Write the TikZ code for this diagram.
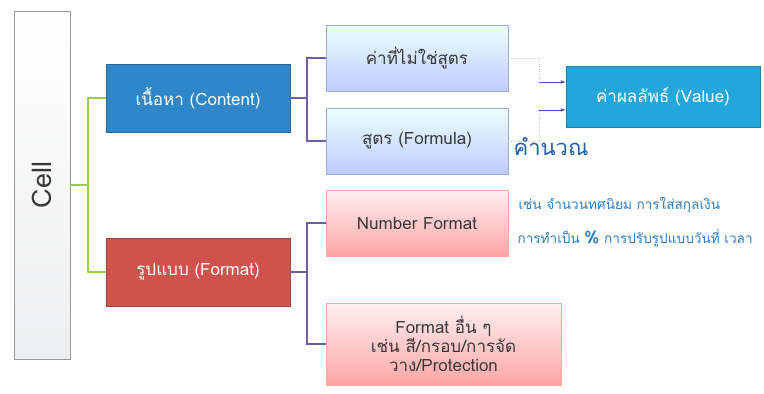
\documentclass[tikz,border=0pt]{standalone}
\usepackage{fontspec}
\setmainfont[Script=Thai]{Loma}
\usetikzlibrary{arrows.meta}
\definecolor{cellgray}{HTML}{EDEEEF}
\definecolor{contentblue}{HTML}{2F86C8}
\definecolor{formatred}{HTML}{D0524D}
\definecolor{valueblue}{HTML}{22A6DC}
\definecolor{linkgreen}{HTML}{9ACD45}
\definecolor{linkpurple}{HTML}{6E5CA6}
\definecolor{notesblue}{HTML}{2C7DC6}
\definecolor{calcblue}{HTML}{2160AA}
\definecolor{textgray}{HTML}{383838}
\tikzset{
  mainbox/.style={minimum width=184pt, minimum height=68pt, text=white,
    font=\fontsize{17}{19}\selectfont, draw=#1!80!black, fill=#1, inner sep=0pt},
  skybox/.style={minimum width=182pt, minimum height=66pt, text=textgray,
    font=\fontsize{17}{19}\selectfont, draw=cyan!35!blue!40, top color=blue!3!cyan!8,
    bottom color=cyan!20!blue!25!white, inner sep=0pt},
  pinkbox/.style={minimum width=182pt, minimum height=66pt, text=textgray,
    font=\fontsize{17}{19}\selectfont, draw=red!35, top color=red!6,
    bottom color=red!35!white, inner sep=0pt, align=center},
  greenlink/.style={draw=linkgreen, line width=1.2pt},
  purplelink/.style={draw=linkpurple, line width=1.2pt},
  valuelink/.style={draw=gray!60!blue, line width=0.8pt, -{Latex[length=5pt]}},
  faintlink/.style={draw=gray!50, line width=0.6pt, dotted}
}
\begin{document}
\begin{tikzpicture}[x=1pt,y=-1pt]
  \useasboundingbox (0,0) rectangle (764,394);
  % left column
  \node[draw=gray!80, top color=white, bottom color=cellgray, minimum width=56pt,
    minimum height=348pt, inner sep=0pt] (cell) at (42,185) {};
  \node[rotate=90, text=textgray, font=\fontsize{27}{29}\selectfont] (celltext) at (cell.center) {Cell};
  \node[mainbox=contentblue] (content) at (198,98) {เนื้อหา (Content)};
  \node[mainbox=formatred] (format) at (198,272) {รูปแบบ (Format)};
  % second column
  \node[skybox] (nonformula) at (417,58) {ค่าที่ไม่ใช่สูตร};
  \node[skybox] (formula) at (417,141) {สูตร (Formula)};
  \node[pinkbox] (numformat) at (417,223) {Number Format};
  \node[pinkbox, minimum width=235pt, minimum height=82pt] (otherformat) at (443.5,344)
    {Format อื่น ๆ\\เช่น สี/กรอบ/การจัด\\วาง/Protection};
  \node[draw=valueblue!80!black, fill=valueblue, text=white, minimum width=194pt,
    minimum height=61pt, font=\fontsize{17}{19}\selectfont, inner sep=0pt] (value) at (663,96.5)
    {ค่าผลลัพธ์ (Value)};
  \node[text=calcblue, font=\fontsize{22}{24}\selectfont] (calc) at (551,147) {คำนวณ};
  \node[anchor=west, text=notesblue, font=\fontsize{13.6}{15}\selectfont] (note1) at (515,205)
    {เช่น จำนวนทศนิยม การใส่สกุลเงิน};
  \node[anchor=west, text=notesblue, font=\fontsize{13.6}{15}\selectfont] (note2) at (514,238)
    {การทำเป็น {\fontsize{17}{19}\selectfont\bfseries\%} การปรับรูปแบบวันที่ เวลา};
  % connectors
  \coordinate (gjoin) at (88,185);
  \draw[greenlink] (cell.east) -- (gjoin) |- (content.west);
  \draw[greenlink] (gjoin) |- (format.west);
  \coordinate (pjoin1) at (307,98);
  \draw[purplelink] (content.east) -- (pjoin1) |- (nonformula.west);
  \draw[purplelink] (pjoin1) |- (formula.west);
  \coordinate (pjoin2) at (307,272);
  \draw[purplelink] (format.east) -- (pjoin2) |- (numformat.west);
  \draw[purplelink] (pjoin2) |- (otherformat.west);
  \coordinate (bend1) at (539,82);
  \coordinate (bend2) at (539,110);
  \draw[faintlink] (nonformula.east) -| (bend1);
  \draw[valuelink] (bend1) -- (value.west |- bend1);
  \draw[faintlink] (formula.east) -| (bend2);
  \draw[valuelink] (bend2) -- (value.west |- bend2);
\end{tikzpicture}
\end{document}
